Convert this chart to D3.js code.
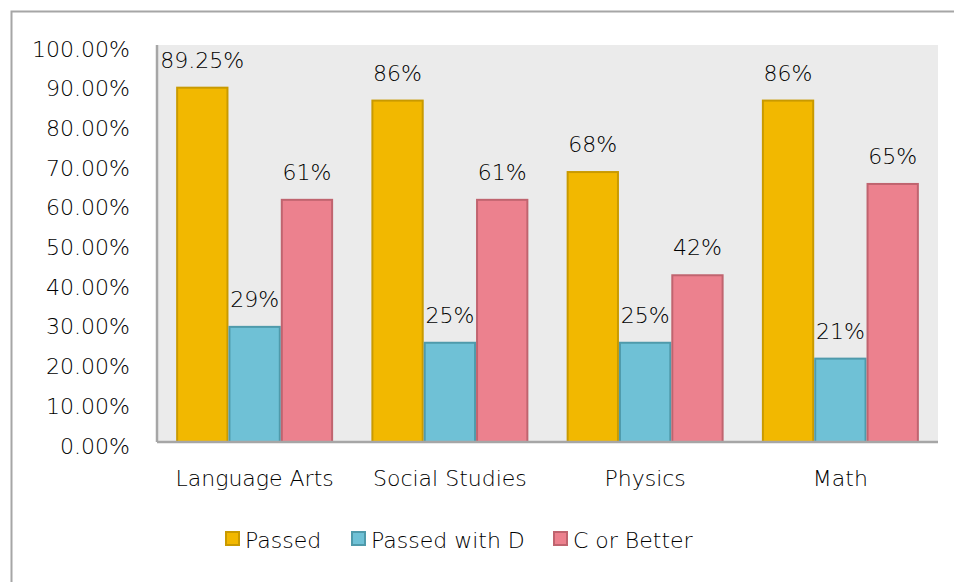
<!DOCTYPE html>
<html>
<head>
<meta charset="utf-8">
<script src="https://cdn.jsdelivr.net/npm/d3@7"></script>
<style>
  body { margin: 0; background: #fff; }
  svg text { font-family: "Century Gothic", "DejaVu Sans", sans-serif; font-weight: 200; fill: #000; }
</style>
</head>
<body>
<svg width="954" height="582"></svg>
<script>
// data
const subjects = ['Language Arts', 'Social Studies', 'Physics', 'Math'];
const seriesNames = ['Passed', 'Passed with D', 'C or Better'];
const passed = [89.25, 86, 68, 86];
const passedWithD = [29, 25, 25, 21];
const cOrBetter = [61, 61, 42, 65];
const passedLabels = ['89.25%', '86%', '68%', '86%'];
const passedWithDLabels = ['29%', '25%', '25%', '21%'];
const cOrBetterLabels = ['61%', '61%', '42%', '65%'];
const yTicks = [0, 10, 20, 30, 40, 50, 60, 70, 80, 90, 100];

const FILLS = ['#f2b800', '#6fc1d6', '#ec818e'];
const STROKES = ['#c99a00', '#4f9aab', '#c0646f'];
const FS = 22;

const values = [passed, passedWithD, cOrBetter];
const labels = [passedLabels, passedWithDLabels, cOrBetterLabels];

const PL = 157, PR = 938, PT = 45, PB = 442;

const svg = d3.select('svg');

// outer frame (runs past the right and bottom edges)
svg.append('rect')
    .attr('x', 11.5).attr('y', 11.5)
    .attr('width', 960).attr('height', 600)
    .attr('fill', '#fff')
    .attr('stroke', '#a6a6a6')
    .attr('stroke-width', 2);

// plot background
svg.append('rect')
    .attr('x', PL).attr('y', PT)
    .attr('width', PR - PL).attr('height', PB - PT)
    .attr('fill', '#ebebeb');

const x0 = d3.scaleBand().domain(subjects).range([PL, PR])
    .paddingInner(0.196).paddingOuter(0.098);
const x1 = d3.scaleBand().domain(seriesNames).range([0, x0.bandwidth()]);
const y = d3.scaleLinear().domain([0, 100]).range([PB, PT]);

// bars
seriesNames.forEach((s, si) => {
    svg.append('g').selectAll('rect')
        .data(subjects)
        .join('rect')
        .attr('x', d => x0(d) + x1(s) + 1)
        .attr('y', (d, i) => y(values[si][i]))
        .attr('width', x1.bandwidth() - 2)
        .attr('height', (d, i) => PB - y(values[si][i]))
        .attr('fill', FILLS[si])
        .attr('stroke', STROKES[si])
        .attr('stroke-width', 2);

    svg.append('g').selectAll('text')
        .data(subjects)
        .join('text')
        .attr('x', d => x0(d) + x1(s) + x1.bandwidth() / 2)
        .attr('y', (d, i) => y(values[si][i]) - 20)
        .attr('text-anchor', 'middle')
        .attr('font-size', FS)
        .text((d, i) => labels[si][i]);
});

// axes lines
svg.append('line')
    .attr('x1', PL).attr('y1', PT).attr('x2', PL).attr('y2', PB)
    .attr('stroke', '#a6a6a6').attr('stroke-width', 2.5);
svg.append('line')
    .attr('x1', PL).attr('y1', PB).attr('x2', PR).attr('y2', PB)
    .attr('stroke', '#a6a6a6').attr('stroke-width', 2.5);

// y axis labels
const yAxis = svg.append('g')
    .attr('transform', `translate(${PL - 27},0)`)
    .call(d3.axisLeft(y).tickValues(yTicks).tickSize(0).tickFormat(d => d.toFixed(2) + '%'));
yAxis.select('.domain').remove();
yAxis.selectAll('text')
    .attr('font-size', FS)
    .attr('dy', '0.5em')
    .attr('x', 0);

// x axis labels
const xAxis = svg.append('g')
    .attr('transform', `translate(0,${PB})`)
    .call(d3.axisBottom(x0).tickSize(0).tickPadding(0));
xAxis.select('.domain').remove();
xAxis.selectAll('text')
    .attr('font-size', FS)
    .attr('y', 44)
    .attr('dy', 0);

// legend
const legendItems = [
    { name: seriesNames[0], x: 225 },
    { name: seriesNames[1], x: 351 },
    { name: seriesNames[2], x: 553 }
];
const lg = svg.append('g');
legendItems.forEach((it, i) => {
    lg.append('rect')
        .attr('x', it.x + 1).attr('y', 532)
        .attr('width', 13).attr('height', 13)
        .attr('fill', FILLS[i])
        .attr('stroke', STROKES[i])
        .attr('stroke-width', 2);
    lg.append('text')
        .attr('x', it.x + 20).attr('y', 548)
        .attr('font-size', FS)
        .text(it.name);
});
</script>
</body>
</html>
